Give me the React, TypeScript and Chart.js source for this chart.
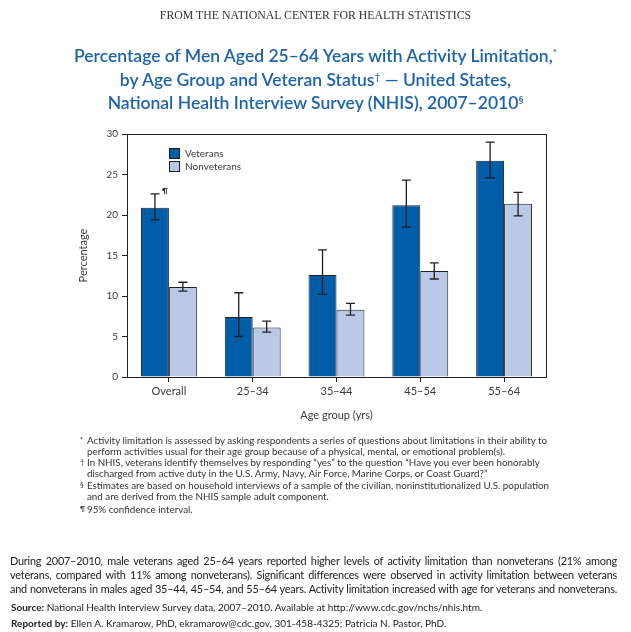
import React, { useEffect, useRef } from "react";
import { Chart, registerables } from "chart.js";

Chart.register(...registerables);

const categories = ["Overall", "25–34", "35–44", "45–54", "55–64"];
const veterans = [20.9, 7.4, 12.6, 21.2, 26.7];
const vetLower = [19.4, 5.0, 10.2, 18.5, 24.6];
const vetUpper = [22.6, 10.4, 15.7, 24.3, 29.0];
const nonveterans = [11.1, 6.1, 8.3, 13.1, 21.4];
const nonLower = [10.6, 5.55, 7.65, 12.1, 19.9];
const nonUpper = [11.7, 6.9, 9.1, 14.1, 22.8];
const seriesNames = ["Veterans", "Nonveterans"];
const yMin = 0;
const yMax = 30;
const yStep = 5;

const VET_COLOR = "#005DA8";
const NON_COLOR = "#B9C9E7";
const INK = "#231F20";
const TEXT = "#3a3a3a";
const FONT = "Lato, 'Open Sans', sans-serif";

const errorBarPlugin = {
  id: "errorBars",
  afterDatasetsDraw(chart: any) {
    const ctx = chart.ctx;
    const yScale = chart.scales.y;
    const lows = [vetLower, nonLower];
    const highs = [vetUpper, nonUpper];
    ctx.save();
    ctx.strokeStyle = INK;
    ctx.lineWidth = 1.3;
    for (let d = 0; d < 2; d++) {
      const meta = chart.getDatasetMeta(d);
      meta.data.forEach((bar: any, j: number) => {
        const x = bar.x;
        const yl = yScale.getPixelForValue(lows[d][j]);
        const yh = yScale.getPixelForValue(highs[d][j]);
        const cap = 4.5;
        ctx.beginPath();
        ctx.moveTo(x, yl);
        ctx.lineTo(x, yh);
        ctx.moveTo(x - cap, yl);
        ctx.lineTo(x + cap, yl);
        ctx.moveTo(x - cap, yh);
        ctx.lineTo(x + cap, yh);
        ctx.stroke();
        if (d === 0 && j === 0) {
          ctx.fillStyle = INK;
          ctx.font = `bold 8px ${FONT}`;
          ctx.textAlign = "left";
          ctx.textBaseline = "middle";
          ctx.fillText("¶", x + 7, yh - 3);
        }
      });
    }
    ctx.restore();
  },
  afterDraw(chart: any) {
    const { ctx, chartArea } = chart;
    ctx.save();
    ctx.strokeStyle = INK;
    ctx.lineWidth = 1;
    ctx.strokeRect(
      Math.round(chartArea.left) + 0.5,
      Math.round(chartArea.top) + 0.5,
      Math.round(chartArea.right - chartArea.left),
      Math.round(chartArea.bottom - chartArea.top)
    );
    // legend inside plot
    const colors = [VET_COLOR, NON_COLOR];
    const lx = chartArea.left + 42;
    const ly = chartArea.top + 14;
    ctx.font = `10px ${FONT}`;
    ctx.textBaseline = "middle";
    ctx.textAlign = "left";
    seriesNames.forEach((name, i) => {
      const y = ly + i * 13;
      ctx.fillStyle = colors[i];
      ctx.fillRect(lx, y, 10, 10);
      ctx.strokeRect(lx + 0.5, y + 0.5, 10, 10);
      ctx.fillStyle = TEXT;
      ctx.fillText(name, lx + 16, y + 5.5);
    });
    ctx.restore();
  },
};

const noteStyle: React.CSSProperties = {
  position: "absolute",
  left: 87,
  fontFamily: FONT,
  fontSize: 9.8,
  color: "#333",
  whiteSpace: "nowrap",
  lineHeight: "11px",
};
const markStyle: React.CSSProperties = {
  position: "absolute",
  left: 80,
  fontFamily: FONT,
  fontSize: 7.5,
  color: "#333",
  lineHeight: "11px",
};

export default function App() {
  const canvasRef = useRef<HTMLCanvasElement | null>(null);

  useEffect(() => {
    if (!canvasRef.current) return;
    const chart = new Chart(canvasRef.current, {
      type: "bar",
      data: {
        labels: categories,
        datasets: [
          {
            label: seriesNames[0],
            data: veterans,
            backgroundColor: VET_COLOR,
            borderColor: INK,
            borderWidth: 1,
            categoryPercentage: 0.667,
            barPercentage: 1,
          },
          {
            label: seriesNames[1],
            data: nonveterans,
            backgroundColor: NON_COLOR,
            borderColor: INK,
            borderWidth: 1,
            categoryPercentage: 0.667,
            barPercentage: 1,
          },
        ],
      },
      options: {
        responsive: false,
        animation: false,
        layout: { padding: { left: 77, right: 85, top: 134, bottom: 210 } },
        plugins: {
          legend: { display: false },
          tooltip: { enabled: false },
          title: { display: false },
        },
        scales: {
          x: {
            grid: {
              display: true,
              drawOnChartArea: false,
              drawTicks: true,
              tickLength: 5,
              color: INK,
              offset: false,
            },
            border: { display: true, color: INK },
            ticks: {
              color: TEXT,
              font: { family: FONT, size: 11 },
              padding: 3,
              maxRotation: 0,
            },
            title: {
              display: true,
              text: "Age group (yrs)",
              color: TEXT,
              font: { family: FONT, size: 11 },
              padding: { top: 6, bottom: 0 },
            },
            afterFit(scale: any) {
              scale.height = 45;
            },
          },
          y: {
            min: yMin,
            max: yMax,
            ticks: {
              stepSize: yStep,
              color: TEXT,
              font: { family: FONT, size: 10 },
              padding: 4,
            },
            grid: {
              display: true,
              drawOnChartArea: false,
              drawTicks: true,
              tickLength: 5,
              color: INK,
            },
            border: { display: true, color: INK },
            title: {
              display: true,
              text: "Percentage",
              color: TEXT,
              font: { family: FONT, size: 11 },
              padding: { top: 0, bottom: 4 },
            },
            afterFit(scale: any) {
              scale.width = 50;
            },
          },
        },
      },
      plugins: [errorBarPlugin],
    } as any);
    return () => chart.destroy();
  }, []);

  return (
    <div
      style={{
        position: "absolute",
        left: 0,
        top: 0,
        width: 631,
        height: 632,
        background: "#fff",
        overflow: "hidden",
      }}
    >
      <canvas
        ref={canvasRef}
        width={631}
        height={632}
        style={{ position: "absolute", left: 0, top: 0, width: 631, height: 632 }}
      />
      <div
        style={{
          position: "absolute",
          top: 8,
          left: 0,
          width: 631,
          textAlign: "center",
          fontFamily: "'Liberation Serif', 'DejaVu Serif', serif",
          fontSize: 11.8,
          color: "#333",
        }}
      >
        FROM THE NATIONAL CENTER FOR HEALTH STATISTICS
      </div>
      <div
        style={{
          position: "absolute",
          top: 44,
          left: 0,
          width: 631,
          textAlign: "center",
          fontFamily: FONT,
          fontWeight: 600,
          fontSize: 17.5,
          lineHeight: "23.5px",
          color: "#1B63AE",
        }}
      >
        <div>
          Percentage of Men Aged 25–64 Years with Activity Limitation,
          <sup style={{ fontSize: 10, verticalAlign: "6px", lineHeight: 0 }}>*</sup>
        </div>
        <div>
          by Age Group and Veteran Status
          <sup style={{ fontSize: 10, verticalAlign: "6px", lineHeight: 0 }}>†</sup> — United States,
        </div>
        <div>
          National Health Interview Survey (NHIS), 2007–2010
          <sup style={{ fontSize: 10, verticalAlign: "6px", lineHeight: 0 }}>§</sup>
        </div>
      </div>

      <div style={{ ...markStyle, top: 435 }}>*</div>
      <div style={{ ...noteStyle, top: 435 }}>
        Activity limitation is assessed by asking respondents a series of questions about limitations in their ability to
      </div>
      <div style={{ ...noteStyle, top: 446 }}>
        perform activities usual for their age group because of a physical, mental, or emotional problem(s).
      </div>
      <div style={{ ...markStyle, top: 457 }}>†</div>
      <div style={{ ...noteStyle, top: 457 }}>
        In NHIS, veterans identify themselves by responding “yes” to the question “Have you ever been honorably
      </div>
      <div style={{ ...noteStyle, top: 468 }}>
        discharged from active duty in the U.S. Army, Navy, Air Force, Marine Corps, or Coast Guard?”
      </div>
      <div style={{ ...markStyle, top: 480 }}>§</div>
      <div style={{ ...noteStyle, top: 480 }}>
        Estimates are based on household interviews of a sample of the civilian, noninstitutionalized U.S. population
      </div>
      <div style={{ ...noteStyle, top: 491 }}>
        and are derived from the NHIS sample adult component.
      </div>
      <div style={{ ...markStyle, top: 504 }}>¶</div>
      <div style={{ ...noteStyle, top: 504 }}>95% confidence interval.</div>

      {[
        "During 2007–2010, male veterans aged 25–64 years reported higher levels of activity limitation than nonveterans (21% among",
        "veterans, compared with 11% among nonveterans). Significant differences were observed in activity limitation between veterans",
        "and nonveterans in males aged 35–44, 45–54, and 55–64 years. Activity limitation increased with age for veterans and nonveterans.",
      ].map((line, i) => (
        <div
          key={i}
          style={{
            position: "absolute",
            left: 10,
            width: 607,
            top: 554 + i * 14,
            fontFamily: FONT,
            fontSize: 10.9,
            letterSpacing: -0.22,
            lineHeight: "14px",
            color: "#222",
            textAlign: "justify",
            textAlignLast: "justify",
            whiteSpace: "nowrap",
          }}
        >
          {line}
        </div>
      ))}
      <div
        style={{
          position: "absolute",
          left: 11,
          top: 601,
          fontFamily: FONT,
          fontSize: 10,
          color: "#222",
          whiteSpace: "nowrap",
        }}
      >
        <b>Source:</b> National Health Interview Survey data, 2007–2010. Available at http://www.cdc.gov/nchs/nhis.htm.
      </div>
      <div
        style={{
          position: "absolute",
          left: 11,
          top: 617,
          fontFamily: FONT,
          fontSize: 10,
          color: "#222",
          whiteSpace: "nowrap",
        }}
      >
        <b>Reported by:</b> Ellen A. Kramarow, PhD, ekramarow@cdc.gov, 301-458-4325; Patricia N. Pastor, PhD.
      </div>
    </div>
  );
}
